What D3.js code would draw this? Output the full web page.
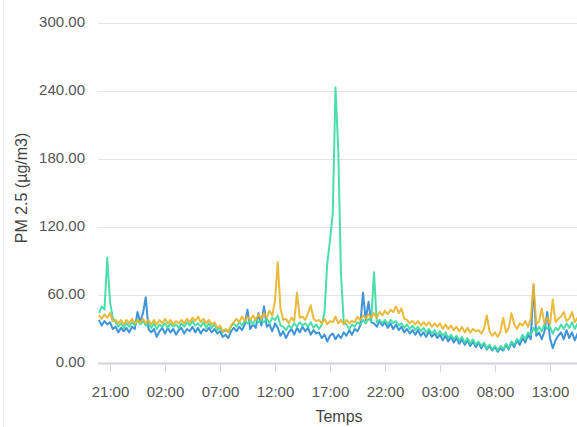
<!DOCTYPE html>
<html><head><meta charset="utf-8">
<script src="https://cdn.jsdelivr.net/npm/d3@7"></script>
<style>
html,body{margin:0;padding:0;background:#fff;overflow:hidden;}
svg{display:block;font-family:"Liberation Sans",Arial,sans-serif;}
</style></head><body>
<svg id="chart" width="577" height="427"></svg>
<script>
// 15-minute samples starting at 20:00 on day 1
const startTime = "2021-01-01T20:00:00";
const stepMinutes = 15;
const yTicks = [0, 60, 120, 180, 240, 300];
const xTickLabels = ["21:00","02:00","07:00","12:00","17:00","22:00","03:00","08:00","13:00"];
const seriesNames = ["blue", "green", "orange"];
const seriesColors = ["#2f8ad6", "#3ddba2", "#e9b32a"];

const blueValues = [
38,33,37,34,36,30,32,27,31,28,
31,27,32,30,45,36,44,58,30,27,
30,23,28,31,26,31,27,30,25,29,
31,26,30,28,32,27,31,26,30,28,
31,27,30,26,28,23,25,22,28,31,
28,32,29,34,47,30,34,31,44,33,
50,32,34,28,35,31,24,28,22,27,
30,25,31,27,32,28,31,25,29,26,
27,22,25,19,24,26,21,25,22,27,
24,29,25,30,28,33,62,38,54,36,
35,32,37,33,36,31,35,30,34,29,
32,27,30,26,29,25,29,24,27,23,
28,23,26,22,25,20,24,19,23,18,
22,17,21,16,20,15,19,14,18,13,
17,12,15,11,14,10,13,11,16,12,
18,14,20,16,22,18,25,21,68,24,
27,21,28,45,22,13,20,24,27,21,
29,22,27,20,26,22,25];

const greenValues = [
44,50,47,93,54,40,36,32,35,31,
35,32,36,33,38,34,37,33,35,31,
35,30,34,32,35,31,35,32,34,31,
35,32,36,33,37,33,35,32,36,31,
35,31,34,29,31,27,29,28,32,35,
32,36,33,37,35,38,34,39,36,38,
36,39,35,40,38,42,33,32,29,33,
31,35,32,36,33,35,32,36,31,34,
30,34,45,88,108,132,243,188,78,36,
34,30,34,32,36,34,38,35,39,37,
80,36,38,35,38,34,38,35,37,33,
35,31,34,30,33,29,32,28,31,27,
30,26,29,25,28,24,27,22,25,21,
24,20,23,18,22,17,21,16,19,15,
18,13,16,12,15,11,15,12,17,13,
19,16,21,19,25,21,27,25,31,27,
32,28,34,30,32,26,31,29,34,30,
35,31,36,30,35,32,36];

const orangeValues = [
42,39,43,40,44,37,38,35,38,34,
38,35,39,35,38,36,39,35,38,34,
38,34,38,35,39,35,38,34,37,35,
38,35,39,36,40,37,41,36,39,35,
38,34,36,31,33,28,30,27,33,36,
39,36,41,37,41,38,42,38,43,39,
44,40,46,42,55,89,48,38,39,35,
40,37,62,40,41,38,44,51,39,37,
38,35,39,34,37,36,41,35,38,34,
38,35,37,36,41,38,42,39,43,40,
44,40,45,42,46,43,47,45,50,44,
48,39,38,35,37,34,37,33,36,33,
36,32,35,32,35,30,34,30,33,29,
32,28,32,27,31,27,30,28,29,26,
30,42,28,24,27,23,28,40,27,31,
44,34,30,35,33,37,32,39,70,34,
37,48,35,40,34,56,36,39,41,45,
37,39,45,36,40,35,39];

const allSeries = [blueValues, greenValues, orangeValues];

const svg = d3.select("#chart");
const W = 577, H = 427;
const margin = {left: 98, top: 23, bottom: 64};
const t0 = new Date(startTime);
const timeAt = i => new Date(t0.getTime() + i * stepMinutes * 60000);

// x: 11 px per hour, 21:00 at x=110
const x = d3.scaleTime()
  .domain([new Date("2021-01-01T21:00:00"), new Date("2021-01-02T02:00:00")])
  .range([110, 165]);
const y = d3.scaleLinear().domain([0, 300]).range([363, 23]);

// left faint border
svg.append("line").attr("x1", 3.5).attr("x2", 3.5).attr("y1", 0).attr("y2", H)
  .attr("stroke", "#ececec").attr("stroke-width", 1);

// grid + y labels
const gridG = svg.append("g");
yTicks.forEach(v => {
  gridG.append("line").attr("x1", margin.left).attr("x2", W)
    .attr("y1", Math.round(y(v)) + 0.5).attr("y2", Math.round(y(v)) + 0.5)
    .attr("stroke", v === 0 ? "#d0d4da" : "#e3e3e3").attr("stroke-width", v === 0 ? 2 : 1);
});
const yAxis = d3.axisLeft(y).tickValues(yTicks).tickFormat(d3.format(".2f")).tickSize(0).tickPadding(0);
const yg = svg.append("g").attr("transform", "translate(85,-1)").call(yAxis);
yg.select(".domain").remove();
yg.selectAll("text").attr("font-size", 15).attr("fill", "#555")
  .attr("font-family", "Liberation Sans, Arial, sans-serif");

// x ticks
const xTickDates = xTickLabels.map((lab, k) => {
  const d = new Date("2021-01-01T21:00:00");
  return new Date(d.getTime() + k * 5 * 3600000);
});
const xAxis = d3.axisBottom(x).tickValues(xTickDates)
  .tickFormat((d, k) => xTickLabels[k]).tickSize(7).tickPadding(14);
const xg = svg.append("g").attr("transform", "translate(0,365)").call(xAxis);
xg.select(".domain").remove();
xg.selectAll("line").attr("stroke", "#d6d6d6");
xg.selectAll("text").attr("font-size", 15).attr("fill", "#555")
  .attr("font-family", "Liberation Sans, Arial, sans-serif");

// clip
svg.append("clipPath").attr("id", "plotclip").append("rect")
  .attr("x", margin.left).attr("y", 0).attr("width", W - margin.left).attr("height", 364);

const line = d3.line().x((d, i) => x(timeAt(i))).y(d => y(d)).curve(d3.curveLinear);
const lg = svg.append("g").attr("clip-path", "url(#plotclip)");
allSeries.forEach((vals, k) => {
  lg.append("path").datum(vals).attr("d", line)
    .attr("fill", "none").attr("stroke", seriesColors[k])
    .attr("stroke-width", 2).attr("stroke-opacity", 0.92)
    .attr("stroke-linejoin", "round");
});

// axis titles
svg.append("text").attr("x", 339).attr("y", 422).attr("text-anchor", "middle")
  .attr("font-size", 16).attr("fill", "#444").text("Temps");
svg.append("text").attr("transform", "translate(27,188) rotate(-90)")
  .attr("text-anchor", "middle").attr("font-size", 16).attr("fill", "#444").text("PM 2.5 (µg/m3)");
</script>
</body></html>
